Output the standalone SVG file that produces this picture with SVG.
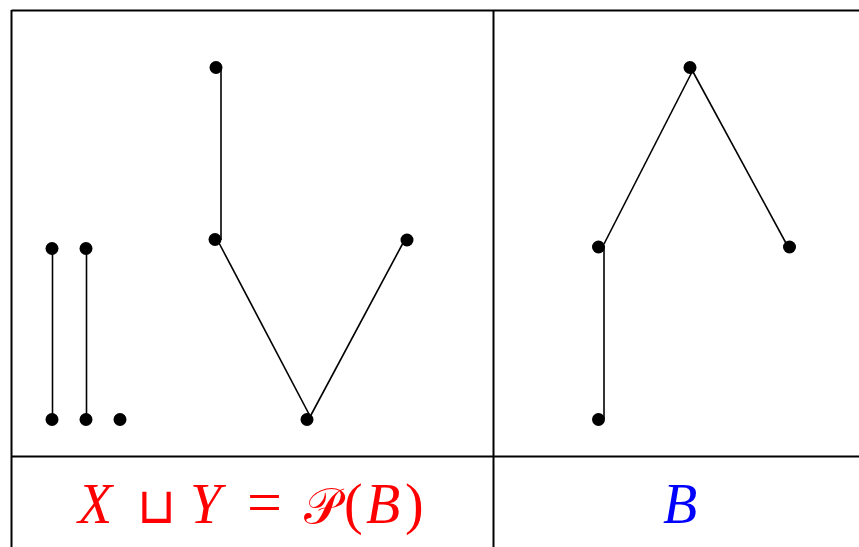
<svg xmlns="http://www.w3.org/2000/svg" width="859" height="547" viewBox="0 0 859 547">
<style>
.grid{stroke:#000;stroke-width:2;fill:none}
.edge{stroke:#000;stroke-width:1.6;fill:none}
.dot{fill:#000}
.math{font-family:"Liberation Serif","DejaVu Serif",serif;font-style:italic;font-size:56px}
.up{font-style:normal}
</style>
<rect width="859" height="547" fill="#fff"/>
<g id="table" class="grid">
<line x1="11.5" y1="10.5" x2="859" y2="10.5"/>
<line x1="11.5" y1="10" x2="11.5" y2="547"/>
<line x1="493.5" y1="10" x2="493.5" y2="547"/>
<line x1="11" y1="456.5" x2="859" y2="456.5"/>
</g>
<g id="connectors" class="edge">
<line x1="52.5" y1="248" x2="52.5" y2="419"/>
<line x1="86.5" y1="248" x2="86.5" y2="419"/>
<line x1="221" y1="68" x2="221" y2="240"/>
<line x1="219" y1="243" x2="310" y2="416"/>
<line x1="311" y1="415" x2="403" y2="243"/>
<line x1="693" y1="70" x2="604" y2="244"/>
<line x1="692" y1="70" x2="787" y2="245"/>
<line x1="604" y1="246" x2="604" y2="419"/>
</g>
<g id="n1"><circle class="dot" cx="52" cy="248.5" r="6.5"/></g>
<g id="n2"><circle class="dot" cx="52" cy="419.5" r="6.5"/></g>
<g id="n3"><circle class="dot" cx="86" cy="248.5" r="6.5"/></g>
<g id="n4"><circle class="dot" cx="86" cy="419.5" r="6.5"/></g>
<g id="n5"><circle class="dot" cx="120" cy="419.5" r="6.5"/></g>
<g id="n6"><circle class="dot" cx="216" cy="67.5" r="6.5"/></g>
<g id="n7"><circle class="dot" cx="215" cy="239.5" r="6.5"/></g>
<g id="n8"><circle class="dot" cx="307" cy="419.5" r="6.5"/></g>
<g id="n9"><circle class="dot" cx="407" cy="240" r="6.5"/></g>
<g id="n10"><circle class="dot" cx="690" cy="67.5" r="6.5"/></g>
<g id="n11"><circle class="dot" cx="598.5" cy="247" r="6.5"/></g>
<g id="n12"><circle class="dot" cx="789.5" cy="247" r="6.5"/></g>
<g id="n13"><circle class="dot" cx="598.5" cy="419.5" r="6.5"/></g>
<g id="label-left" fill="#ff0000">
<text x="78" y="523" class="math">X</text>
<text x="137" y="523" class="math up" style="font-family:'DejaVu Sans',sans-serif;font-size:50px;font-weight:200">⊔</text>
<text x="190" y="523" class="math">Y</text>
<text x="247" y="523" class="math up" style="font-size:62px">=</text>
<text x="304" y="523" class="math up" style="font-family:'DejaVu Serif','DejaVu Sans',serif;font-size:50px">𝒫</text>
<text x="344" y="523" class="math up">(</text>
<text x="366" y="523" class="math">B</text>
<text x="405" y="523" class="math up">)</text>
</g>
<g id="label-right" fill="#0000ff">
<text x="663" y="523" class="math">B</text>
</g>
</svg>
